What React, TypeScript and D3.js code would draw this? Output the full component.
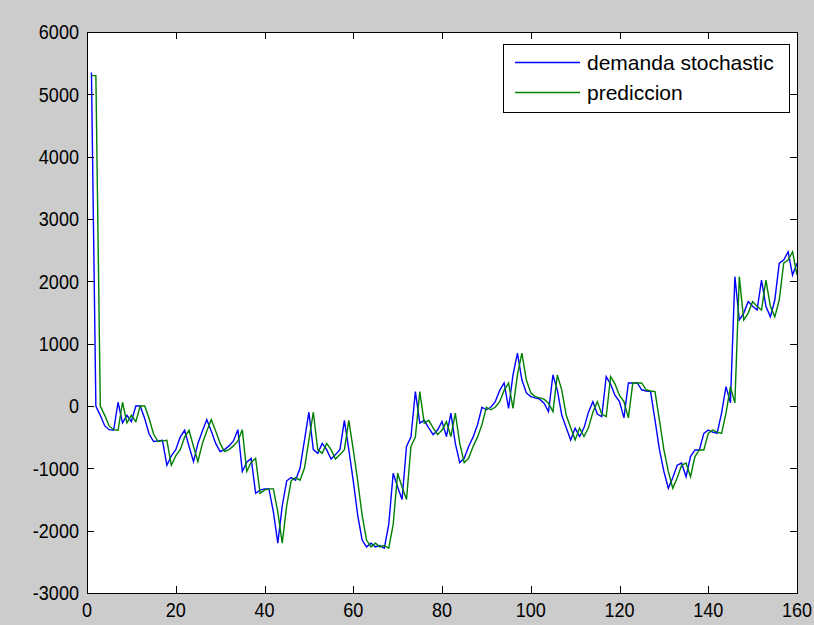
import React from "react";
import * as d3 from "d3";

const seriesNames = ["demanda stochastic", "prediccion"];
const xTicks = [0, 20, 40, 60, 80, 100, 120, 140, 160];
const yTicks = [-3000, -2000, -1000, 0, 1000, 2000, 3000, 4000, 5000, 6000];

// demanda stochastic (t = 1..160)
const demanda = [
  5350, 0, -150, -320, -380, -390, 60, -270, -150, -250,
  0, 0, -200, -450, -570, -560, -550, -950, -800, -700,
  -500, -390, -650, -890, -600, -400, -220, -400, -600, -730,
  -700, -640, -560, -380, -1050, -900, -840, -1400, -1350, -1330,
  -1330, -1700, -2200, -1600, -1200, -1150, -1190, -1000, -550, -100,
  -700, -760, -600, -700, -850, -780, -700, -230, -700, -1200,
  -1750, -2150, -2260, -2200, -2260, -2240, -2280, -1900, -1080, -1300,
  -1500, -650, -500, 230, -275, -230, -350, -460, -385, -250,
  -490, -115, -600, -910, -840, -650, -500, -300, -20, -60,
  -20, 70, 250, 370, -40, 500, 850, 420, 210, 150,
  130, 110, 45, -90, 500, 250, -150, -350, -545, -355,
  -490, -350, -100, 70, -130, -170, 470, 350, 170, 70,
  -190, 370, 370, 370, 260, 240, 230, -225, -700, -1050,
  -1320, -1150, -950, -915, -1135, -810, -705, -705, -440, -385,
  -420, -440, -115, 310, 50, 2075, 1380, 1490, 1675, 1600,
  1540, 2020, 1600, 1430, 1700, 2290, 2340, 2475, 2100, 2290,
];

// prediccion (t = 1..160)
const prediccion = [
  5300, 5300, 0, -150, -320, -380, -390, 60, -270, -150,
  -250, 0, 0, -200, -450, -570, -560, -550, -950, -800,
  -700, -500, -390, -650, -890, -600, -400, -220, -400, -600,
  -730, -700, -640, -560, -380, -1050, -900, -840, -1400, -1350,
  -1330, -1330, -1700, -2200, -1600, -1200, -1150, -1190, -1000, -550,
  -100, -700, -760, -600, -700, -850, -780, -700, -230, -700,
  -1200, -1750, -2150, -2260, -2200, -2260, -2240, -2280, -1900, -1080,
  -1300, -1500, -650, -500, 230, -275, -230, -350, -460, -385,
  -250, -490, -115, -600, -910, -840, -650, -500, -300, -20,
  -60, -20, 70, 250, 370, -40, 500, 850, 420, 210,
  150, 130, 110, 45, -90, 500, 250, -150, -350, -545,
  -355, -490, -350, -100, 70, -130, -170, 470, 350, 170,
  70, -190, 370, 370, 370, 260, 240, 230, -225, -700,
  -1050, -1320, -1150, -950, -915, -1135, -810, -705, -705, -440,
  -385, -420, -440, -115, 310, 50, 2075, 1380, 1490, 1675,
  1600, 1540, 2020, 1600, 1430, 1700, 2290, 2340, 2475, 2100,
];

const colors = ["#0000ff", "#008000"];

const W = 814;
const H = 625;
const L = 87;
const R = 797;
const T = 32;
const B = 593;

export default function App() {
  const x = d3.scaleLinear().domain([0, 160]).range([L, R]);
  const y = d3.scaleLinear().domain([-3000, 6000]).range([B, T]);
  const line = d3
    .line<number>()
    .x((_, i) => x(i + 1))
    .y((d) => y(d));
  const series = [demanda, prediccion];
  const font = "Arial, 'Liberation Sans', Helvetica, sans-serif";
  const tickLen = 7;
  const sx = 0.86;

  return (
    <div style={{ position: "fixed", left: 0, top: 0, width: W, height: H }}>
      <svg width={W} height={H} style={{ display: "block" }}>
        <rect x={0} y={0} width={W} height={H} fill="#cccccc" />
        <rect x={L} y={T} width={R - L} height={B - T} fill="#ffffff" />
        <clipPath id="plotclip">
          <rect x={L} y={T} width={R - L} height={B - T} />
        </clipPath>
        <g clipPath="url(#plotclip)">
          {series.map((s, k) => (
            <path
              key={k}
              d={line(s) || ""}
              fill="none"
              stroke={colors[k]}
              strokeWidth={1.4}
              strokeLinejoin="miter"
            />
          ))}
        </g>
        {/* axes box */}
        <rect
          x={L + 0.5}
          y={T + 0.5}
          width={R - L}
          height={B - T}
          fill="none"
          stroke="#000"
          strokeWidth={1}
          shapeRendering="crispEdges"
        />
        {xTicks.map((t) => (
          <g key={"x" + t}>
            <line x1={Math.round(x(t)) + 0.5} x2={Math.round(x(t)) + 0.5} y1={B} y2={B - tickLen} stroke="#000" shapeRendering="crispEdges" />
            <line x1={Math.round(x(t)) + 0.5} x2={Math.round(x(t)) + 0.5} y1={T} y2={T + tickLen} stroke="#000" shapeRendering="crispEdges" />
            <text
              x={x(t)}
              y={B + 24}
              textAnchor="middle"
              fontFamily={font}
              fontSize={21}
              fill="#000"
              transform={`translate(${x(t)},0) scale(${sx},1) translate(${-x(t)},0)`}
            >
              {t}
            </text>
          </g>
        ))}
        {yTicks.map((t) => (
          <g key={"y" + t}>
            <line x1={L} x2={L + tickLen} y1={Math.round(y(t)) + 0.5} y2={Math.round(y(t)) + 0.5} stroke="#000" shapeRendering="crispEdges" />
            <line x1={R} x2={R - tickLen} y1={Math.round(y(t)) + 0.5} y2={Math.round(y(t)) + 0.5} stroke="#000" shapeRendering="crispEdges" />
            <text
              x={L - 8}
              y={y(t) + 7.5}
              textAnchor="end"
              fontFamily={font}
              fontSize={21}
              fill="#000"
              transform={`translate(${L - 8},0) scale(${sx},1) translate(${-(L - 8)},0)`}
            >
              {t}
            </text>
          </g>
        ))}
        {/* legend */}
        <rect x={503.5} y={44.5} width={286} height={68} fill="#ffffff" stroke="#000" strokeWidth={1} shapeRendering="crispEdges" />
        {seriesNames.map((n, k) => (
          <g key={n}>
            <line x1={515} x2={580} y1={62.5 + k * 30} y2={62.5 + k * 30} stroke={colors[k]} strokeWidth={1.4} />
            <text x={587} y={70 + k * 30} fontFamily={font} fontSize={21} fill="#000">
              {n}
            </text>
          </g>
        ))}
      </svg>
    </div>
  );
}
